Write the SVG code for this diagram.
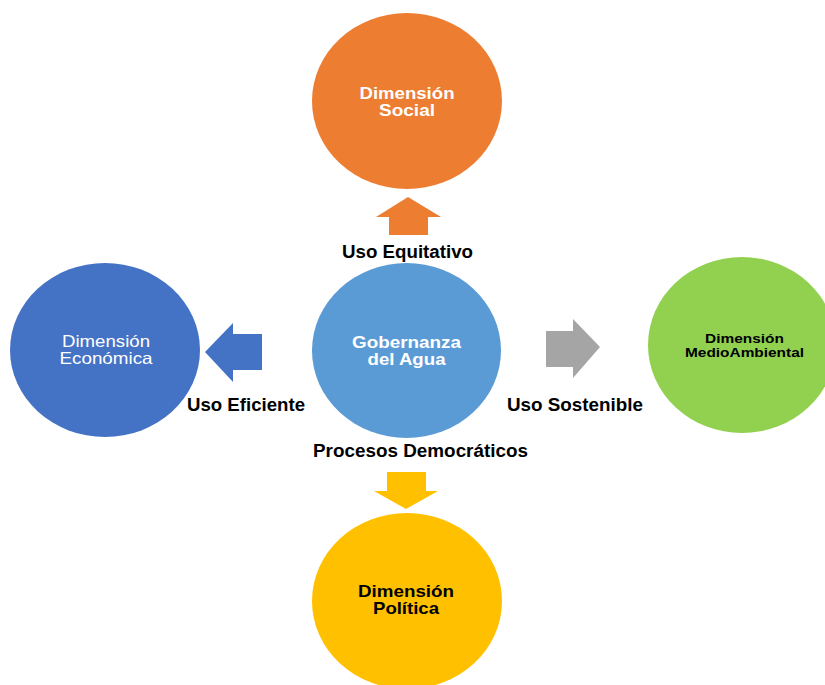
<svg xmlns="http://www.w3.org/2000/svg" width="825" height="685" viewBox="0 0 825 685">
  <style>
    .t { font-family: "Liberation Sans", Arial, sans-serif; text-anchor: middle; }
    .b { font-weight: bold; }
    .w { fill: #ffffff; }
    .k { fill: #000000; }
    .lbl { font-family: "Liberation Sans", Arial, sans-serif; font-weight: bold; font-size: 18px; fill: #000000; text-anchor: middle; }
  </style>
  <rect width="825" height="685" fill="#ffffff"/>

  <g id="node-social">
    <ellipse cx="407" cy="101" rx="95" ry="88" fill="#ED7D31"/>
    <text class="t b w" font-size="16.5" x="407" y="99" textLength="95" lengthAdjust="spacingAndGlyphs">Dimensión</text>
    <text class="t b w" font-size="16.5" x="407" y="116" textLength="56" lengthAdjust="spacingAndGlyphs">Social</text>
  </g>

  <g id="node-gobernanza">
    <ellipse cx="406.5" cy="350.5" rx="94.5" ry="87.5" fill="#5B9BD5"/>
    <text class="t b w" font-size="16.5" x="406.5" y="348" textLength="109" lengthAdjust="spacingAndGlyphs">Gobernanza</text>
    <text class="t b w" font-size="16.5" x="406.5" y="365" textLength="78" lengthAdjust="spacingAndGlyphs">del Agua</text>
  </g>

  <g id="node-economica">
    <ellipse cx="105" cy="350" rx="95" ry="87" fill="#4472C4"/>
    <text class="t w" font-size="16.5" x="106" y="347" textLength="88" lengthAdjust="spacingAndGlyphs">Dimensión</text>
    <text class="t w" font-size="16.5" x="106" y="364" textLength="93" lengthAdjust="spacingAndGlyphs">Económica</text>
  </g>

  <g id="node-medioambiental">
    <ellipse cx="742" cy="345" rx="94" ry="88" fill="#92D050"/>
    <text class="t b k" font-size="13.5" x="744.5" y="343" textLength="79" lengthAdjust="spacingAndGlyphs">Dimensión</text>
    <text class="t b k" font-size="13.5" x="744.5" y="357" textLength="119" lengthAdjust="spacingAndGlyphs">MedioAmbiental</text>
  </g>

  <g id="node-politica">
    <ellipse cx="407" cy="601" rx="95" ry="88" fill="#FFC000"/>
    <text class="t b k" font-size="16.5" x="406" y="597" textLength="96" lengthAdjust="spacingAndGlyphs">Dimensión</text>
    <text class="t b k" font-size="16.5" x="406" y="614" textLength="66" lengthAdjust="spacingAndGlyphs">Política</text>
  </g>

  <g id="connectors">
    <polygon points="408,197 441,217 428,217 428,235 389,235 389,217 376,217" fill="#ED7D31"/>
    <polygon points="205,352 233,323 233,334 262,334 262,370 233,370 233,382" fill="#4472C4"/>
    <polygon points="600,347 573,319 573,331 546,331 546,367 573,367 573,378" fill="#A5A5A5"/>
    <polygon points="406,509 438,491 426,491 426,472 387,472 387,491 374,491" fill="#FFC000"/>
    <text class="lbl" x="407.5" y="258" textLength="131" lengthAdjust="spacingAndGlyphs">Uso Equitativo</text>
    <text class="lbl" x="246" y="411" textLength="118" lengthAdjust="spacingAndGlyphs">Uso Eficiente</text>
    <text class="lbl" x="575" y="411" textLength="136" lengthAdjust="spacingAndGlyphs">Uso Sostenible</text>
    <text class="lbl" x="420.5" y="457" textLength="215" lengthAdjust="spacingAndGlyphs">Procesos Democráticos</text>
  </g>
</svg>
